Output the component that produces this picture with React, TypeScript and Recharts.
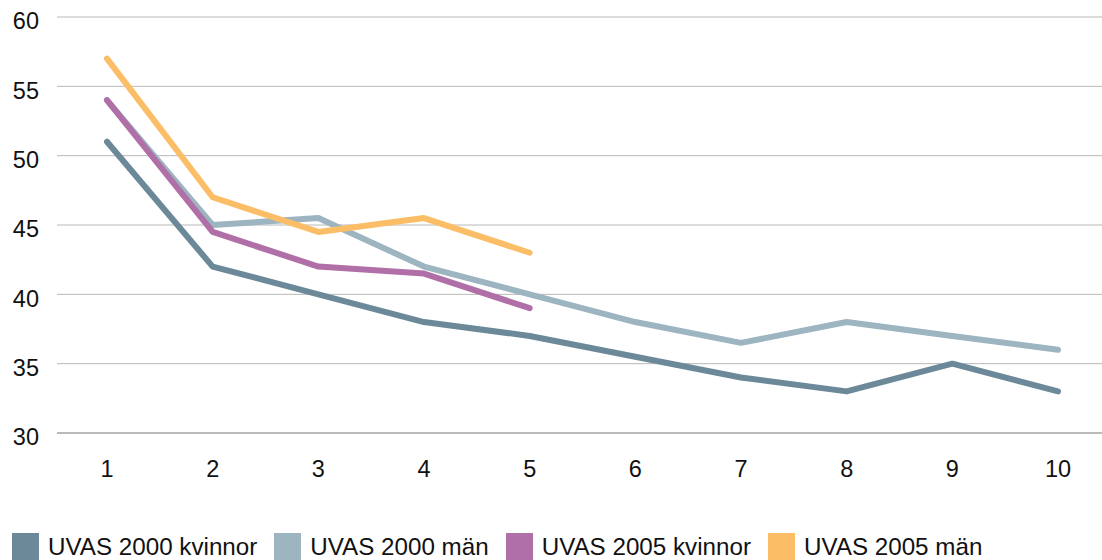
import { CartesianGrid, Legend, Line, LineChart, XAxis, YAxis } from "recharts"

const categories = ["1", "2", "3", "4", "5", "6", "7", "8", "9", "10"]

const uvas2000Kvinnor = [51, 42, 40, 38, 37, 35.5, 34, 33, 35, 33]
const uvas2000Man = [54, 45, 45.5, 42, 40, 38, 36.5, 38, 37, 36]
const uvas2005Kvinnor = [54, 44.5, 42, 41.5, 39]
const uvas2005Man = [57, 47, 44.5, 45.5, 43]

const yTicks = [30, 35, 40, 45, 50, 55, 60]

const series = [
  { key: "k2000", name: "UVAS 2000 kvinnor", color: "#6b8998" },
  { key: "m2000", name: "UVAS 2000 män", color: "#9db4c1" },
  { key: "k2005", name: "UVAS 2005 kvinnor", color: "#b070a7" },
  { key: "m2005", name: "UVAS 2005 män", color: "#fbbd66" },
]

const data = categories.map((name, i) => ({
  name,
  k2000: uvas2000Kvinnor[i],
  m2000: uvas2000Man[i],
  k2005: uvas2005Kvinnor[i],
  m2005: uvas2005Man[i],
}))

const font = "'Liberation Sans', Arial, sans-serif"
const fs = 23.5

const LegendContent = () => (
  <div style={{ height: 50, display: "flex", alignItems: "flex-start", paddingTop: 23, boxSizing: "border-box", paddingLeft: 12, fontFamily: font, fontSize: 24.2, color: "#111" }}>
    {series.map((s) => (
      <div key={s.key} style={{ display: "flex", alignItems: "center", marginRight: 17, whiteSpace: "nowrap" }}>
        <div style={{ width: 27, height: 27, background: s.color, marginRight: 9 }} />
        <span style={{ lineHeight: "27px" }}>{s.name}</span>
      </div>
    ))}
  </div>
)

export default function App() {
  return (
    <div style={{ position: "absolute", left: 0, top: 0 }}>
      <LineChart
        width={1102}
        height={560}
        data={data}
        margin={{ top: 17, right: 0, left: 0, bottom: 0 }}
      >
        <CartesianGrid vertical={false} stroke="#b8b8b8" strokeWidth={1} />
        <XAxis
          dataKey="name"
          height={77}
          padding={{ left: 50, right: 44 }}
          axisLine={{ stroke: "#999" }}
          tickLine={false}
          tickSize={0}
          tickMargin={27}
          stroke="#111"
          fontSize={fs}
          fontFamily={font}
          tick={{ fill: "#111", fontSize: fs, fontFamily: font }}
        />
        <YAxis
          width={57}
          domain={[30, 60]}
          ticks={yTicks}
          axisLine={false}
          tickLine={false}
          tickSize={0}
          tickMargin={18}
          stroke="#111"
          fontSize={fs}
          fontFamily={font}
          tick={{ fill: "#111", fontSize: fs, fontFamily: font, dy: 4 }}
        />
        <Legend verticalAlign="bottom" align="left" content={<LegendContent />} />
        {series.map((s) => (
          <Line
            key={s.key}
            dataKey={s.key}
            name={s.name}
            stroke={s.color}
            strokeWidth={6}
            strokeLinecap="round"
            strokeLinejoin="round"
            dot={false}
            activeDot={false}
            isAnimationActive={false}
          />
        ))}
      </LineChart>
    </div>
  )
}
